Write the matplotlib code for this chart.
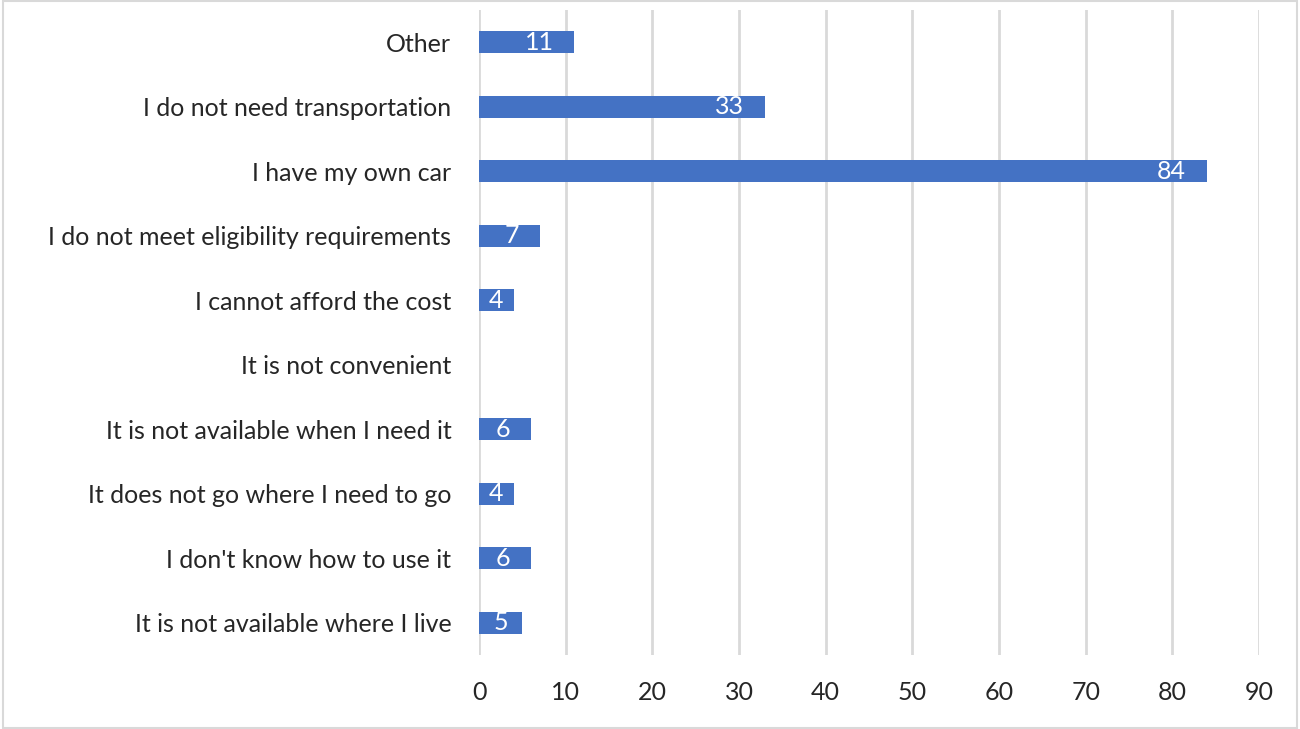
import matplotlib
matplotlib.use("Agg")
import matplotlib.pyplot as plt
from matplotlib.patches import Rectangle

categories = ["It is not available where I live", "I don't know how to use it",
              "It does not go where I need to go", "It is not available when I need it",
              "It is not convenient", "I cannot afford the cost",
              "I do not meet eligibility requirements", "I have my own car",
              "I do not need transportation", "Other"]
values = [5, 6, 4, 6, 0, 4, 7, 84, 33, 11]
xticks = [0, 10, 20, 30, 40, 50, 60, 70, 80, 90]

plt.rcParams['font.family'] = ['Lato', 'DejaVu Sans']
fig = plt.figure(figsize=(13, 7.29), dpi=100)
ax = fig.add_axes([0.3685, 0.1015, 0.6, 0.8848])
color = "#4472C4"
bars = ax.barh(range(len(categories)), values, height=0.34, color=color, zorder=3)
for i, v in enumerate(values):
    if v <= 0:
        continue
    if v < 5.5:
        ax.text(v / 2, i, str(v), ha="center", va="center", color="white",
                fontsize=18, zorder=4)
    else:
        ax.annotate(str(v), xy=(v, i), xytext=(-15, 0), textcoords="offset points",
                    ha="right", va="center", color="white", fontsize=18, zorder=4)
ax.set_xlim(0, 90)
ax.set_ylim(-0.5, 9.5)
ax.set_yticks(range(len(categories)))
ax.set_yticklabels(categories, fontsize=18, color="#262626")
ax.set_xticks(xticks)
ax.set_xticklabels([str(t) for t in xticks], fontsize=18, color="#262626")
ax.tick_params(length=0, pad=20, axis="y")
ax.tick_params(length=0, pad=19, axis="x")
ax.xaxis.grid(True, color="#D9D9D9", linewidth=2, zorder=0)
for s in ax.spines.values():
    s.set_visible(False)
fig.patches.append(Rectangle((0.002, 0.002), 0.996, 0.996, transform=fig.transFigure,
                             fill=False, edgecolor="#D9D9D9", linewidth=1.5))
fig.savefig("out.png", dpi=100)
